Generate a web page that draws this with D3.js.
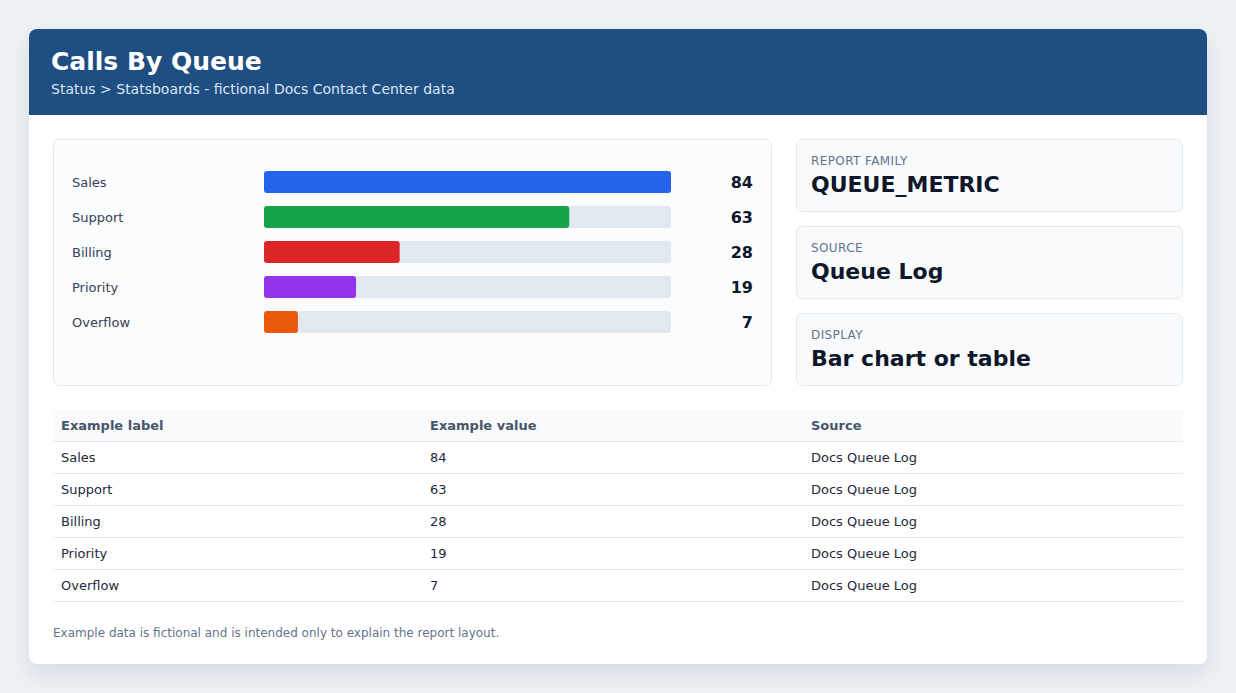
<!DOCTYPE html>
<html><head><meta charset="utf-8">
<script src="https://cdn.jsdelivr.net/npm/d3@7/dist/d3.min.js"></script>
<style>
html,body{margin:0;padding:0;background:#eef2f7;width:1236px;height:693px;overflow:hidden;font-family:"DejaVu Sans",sans-serif;}
#card{position:absolute;left:29px;top:29px;width:1178px;height:635px;background:#fff;border-radius:8px;box-shadow:0 10px 24px rgba(15,23,42,0.10);}
svg{position:absolute;left:0;top:0;}
</style></head><body>
<div id="card"></div>
<svg id="chart" width="1236" height="693"></svg>
<script>
const categories = ["Sales","Support","Billing","Priority","Overflow"];
const values = [84,63,28,19,7];
const barColors = ["#2563eb","#16a34a","#dc2626","#9333ea","#ea580c"];
const infoLabels = ["REPORT FAMILY","SOURCE","DISPLAY"];
const infoValues = ["QUEUE_METRIC","Queue Log","Bar chart or table"];
const tableHeaders = ["Example label","Example value","Source"];
const tableSource = "Docs Queue Log";
const title = "Calls By Queue";
const subtitle = "Status > Statsboards - fictional Docs Contact Center data";
const footnote = "Example data is fictional and is intended only to explain the report layout.";

const svg = d3.select("#chart");
const font = "DejaVu Sans, sans-serif";

// header
const hdrPath = "M29,37 a8,8 0 0 1 8,-8 H1199 a8,8 0 0 1 8,8 V115 H29 Z";
svg.append("path").attr("d", hdrPath).attr("fill", "#1f4e82");
svg.append("text").attr("x",51).attr("y",70).attr("fill","#fff").attr("font-family",font)
  .attr("font-size",25).attr("font-weight","bold").text(title);
svg.append("text").attr("x",51).attr("y",94).attr("fill","#dbe6f4").attr("font-family",font)
  .attr("font-size",14).text(subtitle);

// chart panel
const panel = {x:53.5,y:139.5,w:718,h:246};
svg.append("rect").attr("x",panel.x).attr("y",panel.y).attr("width",panel.w).attr("height",panel.h)
  .attr("rx",6).attr("fill","#fbfcfe").attr("stroke","#e2e8f0");

const y = d3.scaleBand().domain(categories).range([164.5,339.5]).padding(0);
const x = d3.scaleLinear().domain([0,d3.max(values)]).range([264,671]);
const barH = 22;
const g = svg.append("g");
const rows = g.selectAll("g.row").data(categories).join("g").attr("class","row");
rows.append("text").attr("x",72).attr("y",d=>y(d)+y.bandwidth()/2).attr("dy","0.35em")
  .attr("font-family",font).attr("font-size",13).attr("fill","#334155").text(d=>d);
rows.append("rect").attr("x",x(0)).attr("y",d=>y(d)+(y.bandwidth()-barH)/2)
  .attr("width",x(d3.max(values))-x(0)).attr("height",barH).attr("rx",3).attr("fill","#e2e8f0");
rows.append("rect").attr("x",x(0)).attr("y",d=>y(d)+(y.bandwidth()-barH)/2)
  .attr("width",(d,i)=>x(values[i])-x(0)).attr("height",barH).attr("rx",3).attr("fill",(d,i)=>barColors[i]);
rows.append("text").attr("x",753).attr("y",d=>y(d)+y.bandwidth()/2).attr("dy","0.35em")
  .attr("text-anchor","end").attr("font-family",font).attr("font-size",16).attr("font-weight","bold")
  .attr("fill","#0f172a").text((d,i)=>values[i]);

// info cards
const cardY = d3.scaleBand().domain(infoLabels).range([139,400]).paddingInner(14/87).paddingOuter(0);
cardY.range([139,386]);
const cards = svg.selectAll("g.info").data(infoLabels).join("g").attr("class","info");
cards.append("rect").attr("x",796.5).attr("y",d=>Math.round(cardY(d))+0.5).attr("width",386).attr("height",Math.round(cardY.bandwidth())-1)
  .attr("rx",6).attr("fill","#f8fafc").attr("stroke","#e2e8f0");
cards.append("text").attr("x",811).attr("y",d=>Math.round(cardY(d))+26).attr("font-family",font)
  .attr("font-size",12).attr("letter-spacing",0.4).attr("fill","#64748b").text(d=>d);
cards.append("text").attr("x",811).attr("y",d=>Math.round(cardY(d))+53).attr("font-family",font)
  .attr("font-size",22).attr("font-weight","bold").attr("fill","#0f172a").text((d,i)=>infoValues[i]);

// table
const colX = [53,422,803,1183];
const headerTop = 410, headerH = 31, rowH = 32;
svg.append("rect").attr("x",53).attr("y",headerTop).attr("width",1130).attr("height",headerH).attr("fill","#f8fafc");
svg.append("line").attr("x1",53).attr("x2",1183).attr("y1",headerTop+headerH+0.5).attr("y2",headerTop+headerH+0.5).attr("stroke","#e2e8f0");
tableHeaders.forEach((h,j)=>{
  svg.append("text").attr("x",colX[j]+8).attr("y",headerTop+headerH/2).attr("dy","0.35em")
    .attr("font-family",font).attr("font-size",13).attr("font-weight","bold").attr("fill","#475569").text(h);
});
categories.forEach((c,i)=>{
  const top = headerTop+headerH+i*rowH;
  const cells = [c, String(values[i]), tableSource];
  cells.forEach((t,j)=>{
    svg.append("text").attr("x",colX[j]+8).attr("y",top+rowH/2).attr("dy","0.35em")
      .attr("font-family",font).attr("font-size",13).attr("fill","#1e293b").text(t);
  });
  svg.append("line").attr("x1",53).attr("x2",1183).attr("y1",top+rowH+0.5).attr("y2",top+rowH+0.5).attr("stroke","#e2e8f0");
});

svg.append("text").attr("x",53).attr("y",637).attr("font-family",font).attr("font-size",12)
  .attr("fill","#64748b").text(footnote);
</script>
</body></html>
